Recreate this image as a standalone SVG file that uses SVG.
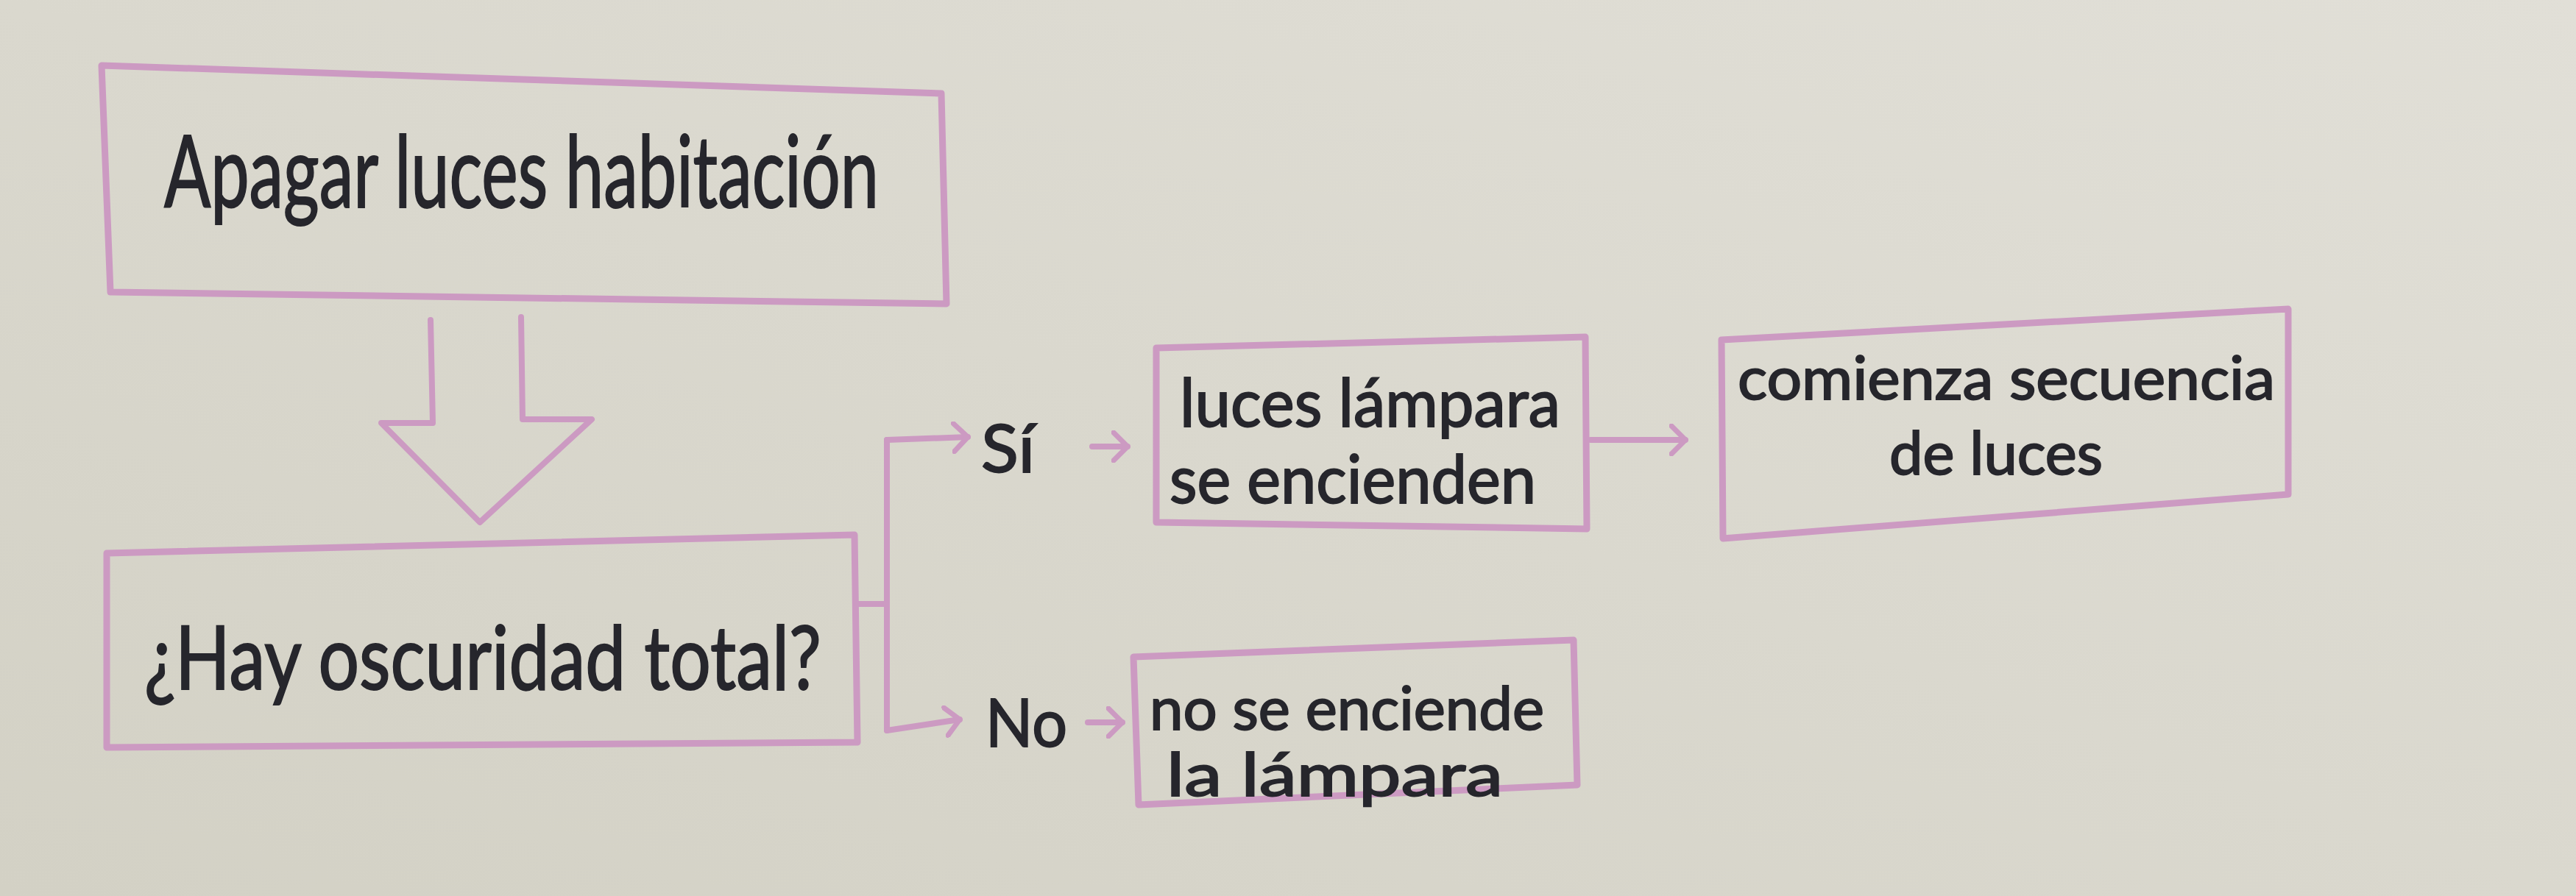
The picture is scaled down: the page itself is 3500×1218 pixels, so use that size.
<svg xmlns="http://www.w3.org/2000/svg" width="3500" height="1218" viewBox="0 0 3500 1218">
<defs>
<linearGradient id="paper" x1="0" y1="1" x2="1" y2="0">
<stop offset="0" stop-color="#d3d1c5"/>
<stop offset="1" stop-color="#e1dfd7"/>
</linearGradient>
<marker id="chev" markerUnits="userSpaceOnUse" markerWidth="30" markerHeight="44" refX="22" refY="22" orient="auto">
<path d="M3,3 L22,22 L3,41" fill="none" stroke="#cc9ac2" stroke-width="7" stroke-linecap="round" stroke-linejoin="round"/>
</marker>
<style>
.box{fill:none;stroke:#cc9ac2;stroke-width:9;stroke-linejoin:round;stroke-linecap:round}
.ln{fill:none;stroke:#cc9ac2;stroke-width:8;stroke-linecap:round;stroke-linejoin:round}
.t{font-family:Lato,"Open Sans","Liberation Sans",sans-serif;fill:#26262c;stroke:#26262c;stroke-width:2;font-weight:400}
</style>
</defs>
<rect width="3500" height="1218" fill="url(#paper)"/>

<g id="node-apagar">
<path class="box" d="M138,89 L1279,127 L1286,413 L150,397 Z"/>
<text class="t" x="223" y="282" font-size="135" textLength="971" lengthAdjust="spacingAndGlyphs">Apagar luces habitación</text>
</g>

<g id="node-flecha">
<path class="ln" d="M585,435 L588,575 L518,575 L652,710 L804,570 L710,570 L708,431"/>
</g>

<g id="node-oscuridad">
<path class="box" d="M145,752 L1161,727 L1165,1009 L145,1016 Z"/>
<text class="t" x="196" y="937" font-size="120" textLength="920" lengthAdjust="spacingAndGlyphs">¿Hay oscuridad total?</text>
</g>

<g id="node-encienden">
<path class="box" d="M1571,473 L2154,458 L2156,719 L1571,710 Z"/>
<text class="t" x="1603" y="580" font-size="92" textLength="517" lengthAdjust="spacingAndGlyphs">luces lámpara</text>
<text class="t" x="1589" y="684" font-size="92" textLength="498" lengthAdjust="spacingAndGlyphs">se encienden</text>
</g>

<g id="node-secuencia">
<path class="box" d="M2339,462 L3109,420 L3109,672 L2341,732 Z"/>
<text class="t" x="2361" y="543" font-size="82" textLength="730" lengthAdjust="spacingAndGlyphs">comienza secuencia</text>
<text class="t" x="2567" y="645" font-size="82" textLength="290" lengthAdjust="spacingAndGlyphs">de luces</text>
</g>

<g id="node-noenciende">
<path class="box" d="M1540,893 L2138,870 L2143,1067 L1547,1094 Z"/>
<text class="t" x="1562" y="992" font-size="82" textLength="536" lengthAdjust="spacingAndGlyphs">no se enciende</text>
<text class="t" x="1585" y="1082" font-size="82" textLength="457" lengthAdjust="spacingAndGlyphs">la lámpara</text>
</g>

<g id="label-si">
<text class="t" x="1333" y="642" font-size="92" textLength="73" lengthAdjust="spacingAndGlyphs">Sí</text>
</g>
<g id="label-no">
<text class="t" x="1339" y="1015" font-size="92" textLength="111" lengthAdjust="spacingAndGlyphs">No</text>
</g>

<g id="connectors">
<path class="ln" d="M1165,821 L1205,821"/>
<path class="ln" d="M1205,598 L1205,993"/>
<path class="ln" d="M1205,598 L1315,594" marker-end="url(#chev)"/>
<path class="ln" d="M1205,993 L1304,978" marker-end="url(#chev)"/>
<path class="ln" d="M1484,607 L1532,607" marker-end="url(#chev)"/>
<path class="ln" d="M1478,982 L1525,982" marker-end="url(#chev)"/>
<path class="ln" d="M2161,598 L2290,598" marker-end="url(#chev)"/>
</g>
</svg>
